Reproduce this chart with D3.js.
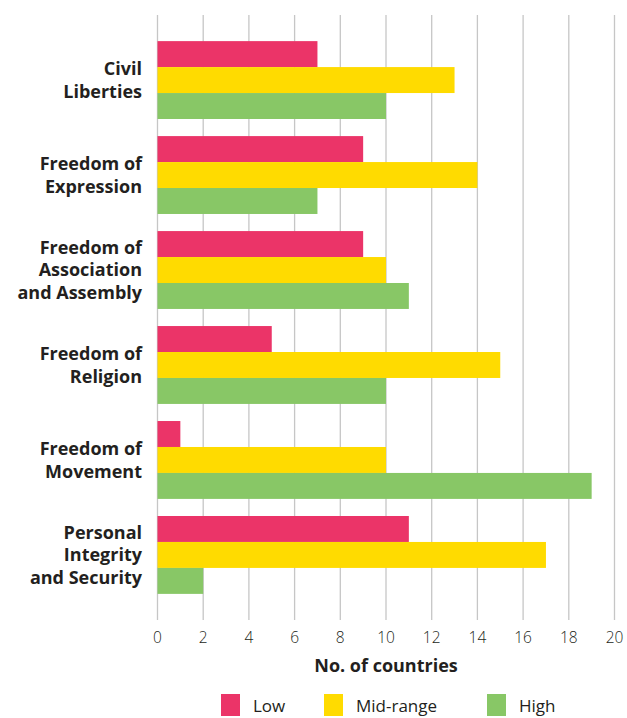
<!DOCTYPE html>
<html>
<head>
  <meta charset="UTF-8" />
  <title>Freedoms by country</title>
  <style>
    body { margin: 0; background: #fff; }
    svg { display: block; font-family: "Open Sans", "Noto Sans", sans-serif; }
    .cat-label { font-weight: 700; font-size: 18px; fill: #231f20; }
    .tick-label { font-weight: 300; font-size: 15.5px; fill: #231f20; }
    .axis-title { font-weight: 700; font-size: 18px; fill: #231f20; }
    .legend-text { font-weight: 400; font-size: 17px; fill: #231f20; }
  </style>
  <script src="https://d3js.org/d3.v7.min.js"></script>
</head>
<body>
  <script>
    /* data */
    let categories = [
      ["Civil", "Liberties"],
      ["Freedom of", "Expression"],
      ["Freedom of", "Association", "and Assembly"],
      ["Freedom of", "Religion"],
      ["Freedom of", "Movement"],
      ["Personal", "Integrity", "and Security"]
    ];
    let seriesNames = ["Low", "Mid-range", "High"];
    let lowValues = [7, 9, 9, 5, 1, 11];
    let midValues = [13, 14, 10, 15, 10, 17];
    let highValues = [10, 7, 11, 10, 19, 2];
    let xTicks = [0, 2, 4, 6, 8, 10, 12, 14, 16, 18, 20];
    let colorArray = ["#eb3468", "#ffdb00", "#88c766"];

    let width = 627, height = 718;
    let plot = { left: 157.5, right: 614.5, top: 15, bottom: 620 };

    let svg = d3.select("body")
      .append("svg")
      .attr("width", width)
      .attr("height", height);

    let xScale = d3.scaleLinear()
      .domain([0, 20])
      .range([plot.left, plot.right]);

    let yScale = d3.scaleBand()
      .domain(d3.range(categories.length))
      .range([plot.top, plot.bottom])
      .paddingInner(0.18)
      .paddingOuter(0.275);

    let subScale = d3.scaleBand()
      .domain([0, 1, 2])
      .range([0, yScale.bandwidth()]);

    /* gridlines */
    svg.append("g")
      .selectAll("line")
      .data(xTicks)
      .enter()
      .append("line")
      .attr("x1", d => xScale(d))
      .attr("x2", d => xScale(d))
      .attr("y1", plot.top)
      .attr("y2", plot.bottom)
      .attr("stroke", "#c6c6c6")
      .attr("stroke-width", 1.3);

    /* bars */
    let series = [lowValues, midValues, highValues];
    let rows = [];
    categories.forEach((c, i) => {
      series.forEach((s, j) => {
        rows.push({ cat: i, series: j, value: s[i] });
      });
    });

    svg.append("g")
      .selectAll("rect")
      .data(rows)
      .enter()
      .append("rect")
      .attr("x", xScale(0))
      .attr("y", d => yScale(d.cat) + subScale(d.series))
      .attr("width", d => xScale(d.value) - xScale(0))
      .attr("height", subScale.bandwidth())
      .attr("fill", d => colorArray[d.series]);

    /* category labels */
    let lineHeight = 22.5;
    let labels = svg.append("g")
      .selectAll("text")
      .data(categories)
      .enter()
      .append("text")
      .attr("class", "cat-label")
      .attr("text-anchor", "end")
      .attr("transform", (d, i) => {
        let cy = yScale(i) + yScale.bandwidth() / 2;
        let y0 = cy - (d.length - 1) * lineHeight / 2;
        return `translate(142, ${y0})`;
      });
    labels.selectAll("tspan")
      .data(d => d)
      .enter()
      .append("tspan")
      .attr("x", 0)
      .attr("y", (d, i) => i * lineHeight)
      .attr("dy", "0.35em")
      .text(d => d);

    /* x tick labels */
    svg.append("g")
      .selectAll("text")
      .data(xTicks)
      .enter()
      .append("text")
      .attr("class", "tick-label")
      .attr("x", d => xScale(d))
      .attr("y", 638)
      .attr("dy", "0.35em")
      .attr("text-anchor", "middle")
      .text(d => d);

    svg.append("text")
      .attr("class", "axis-title")
      .attr("x", (plot.left + plot.right) / 2)
      .attr("y", 666)
      .attr("dy", "0.35em")
      .attr("text-anchor", "middle")
      .text("No. of countries");

    /* legend */
    let legendX = [221, 324, 487];
    let legend = svg.append("g")
      .selectAll("g")
      .data(seriesNames)
      .enter()
      .append("g")
      .attr("transform", (d, i) => `translate(${legendX[i]}, 694)`);
    legend.append("rect")
      .attr("width", 19)
      .attr("height", 22)
      .attr("fill", (d, i) => colorArray[i]);
    legend.append("text")
      .attr("class", "legend-text")
      .attr("x", 32)
      .attr("y", 12)
      .attr("dy", "0.35em")
      .text(d => d);
  </script>
</body>
</html>
